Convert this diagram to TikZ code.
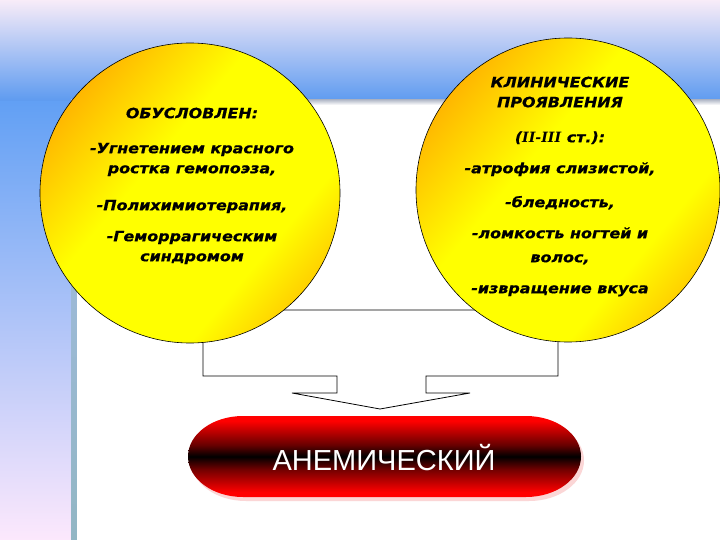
\documentclass[tikz,border=0pt]{standalone}
\usepackage{fontspec}
\setmainfont{DejaVu Sans}
\newfontfamily\circfont{DejaVu Sans}[FakeStretch=1.12, BoldItalicFeatures={FakeBold=0.6}]
\newfontfamily\romfont{DejaVu Serif}
\newfontfamily\pillfont{Liberation Sans}
\definecolor{bgtop}{HTML}{F8ECF8}
\definecolor{bgmid}{HTML}{C8D6F2}
\definecolor{bgblue}{HTML}{5C9AF0}
\definecolor{stripblue}{HTML}{62A0F4}
\definecolor{strippink}{HTML}{FCE8FC}
\definecolor{edgetop}{HTML}{A4BCE4}
\definecolor{edgebot}{HTML}{92B6C4}
\definecolor{panelgray}{HTML}{B8BECC}
\definecolor{deeporange}{HTML}{FFAA00}
\definecolor{softorange}{HTML}{FFB800}
\definecolor{pillshadow}{HTML}{FBD6D6}
\pgfdeclareverticalshading{pillshade}{100bp}{color(0bp)=(red); color(28bp)=(red); color(42bp)=(red!45!black); color(50bp)=(black); color(57bp)=(red!40!black); color(72bp)=(red); color(100bp)=(red)}
\pgfdeclarehorizontalshading{bubbleshade}{100bp}{color(0bp)=(deeporange); color(22bp)=(deeporange); color(42bp)=(yellow); color(66bp)=(yellow); color(80bp)=(softorange); color(100bp)=(softorange)}
\tikzset{
  bubble/.style={circle, draw=black, line width=0.6pt, inner sep=0pt,
    shading=bubbleshade, shading angle=-40},
  arrowshape/.style={draw=black, fill=white, line width=0.8pt, line join=miter},
  bubbletext/.style={align=center, inner sep=0pt, anchor=north,
    font=\circfont\bfseries\itshape\fontsize{14.2}{20}\selectfont},
  pilltext/.style={text=white, inner sep=0pt, font=\pillfont\fontsize{29}{32}\selectfont}
}
\begin{document}
\begin{tikzpicture}[x=1pt,y=-1pt]
\useasboundingbox (0,0) rectangle (720,540);
% background
\fill[top color=bgtop, middle color=bgmid, bottom color=bgblue] (0,0) rectangle (720,102);
\fill[top color=stripblue, bottom color=strippink] (0,102) rectangle (71,540);
\fill[top color=edgetop, bottom color=edgebot] (71,100) rectangle (77,540);
\fill[white] (77,102) rectangle (720,540);
\fill[top color=panelgray, bottom color=white] (77,100) rectangle (720,105);
% block arrow
\draw[arrowshape] (203,310) -- (558,310) -- (558,376) -- (426,376) -- (426,393)
  -- (470,393) -- (380,409) -- (292,393) -- (337,393) -- (337,376) -- (203,376) -- cycle;
% circles
\node[bubble, minimum size=300pt] (cause) at (190,193) {};
\node[bubble, minimum size=304pt] (clin) at (568,190) {};
\node[bubbletext] (causetext) at (192,107.5) {ОБУСЛОВЛЕН:\\[15pt]
-Угнетением красного\\ростка гемопоэза,\\[17pt]
-Полихимиотерапия,\\[11pt]
-Геморрагическим\\синдромом};
\node[bubbletext] (clintext) at (560,76.5) {КЛИНИЧЕСКИЕ\\ПРОЯВЛЕНИЯ\\[15pt]
({\romfont\bfseries\itshape II-III} ст.):\\[11pt]
-атрофия слизистой,\\[14pt]
-бледность,\\[11pt]
-ломкость ногтей и\\[4pt]волос,\\[11pt]
-извращение вкуса};
% pill
\fill[pillshadow] (246,420) -- (529,420) arc[start angle=-90,end angle=90,x radius=55,y radius=40.5]
  -- (246,501) arc[start angle=90,end angle=270,x radius=55,y radius=40.5] -- cycle;
\path[shading=pillshade] (243,416) -- (526,416) arc[start angle=-90,end angle=90,x radius=55,y radius=40.5]
  -- (243,497) arc[start angle=90,end angle=270,x radius=55,y radius=40.5] -- cycle;
\node[pilltext] (anem) at (384,458) {АНЕМИЧЕСКИЙ};
\end{tikzpicture}
\end{document}
